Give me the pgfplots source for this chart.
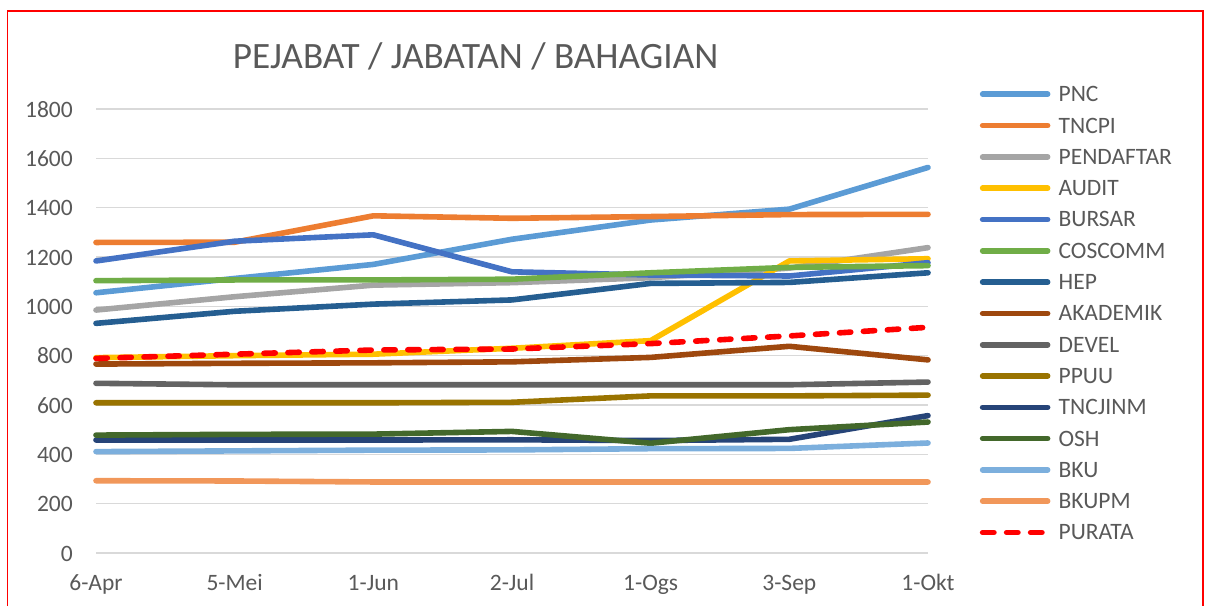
\documentclass[border=0pt]{standalone}
\usepackage{fontspec}
\setmainfont{Carlito}
\usepackage{pgfplots}
\usepackage{pgfplotstable}
\pgfplotsset{compat=1.18}
\definecolor{cPNC}{HTML}{5B9BD5}
\definecolor{cTNCPI}{HTML}{ED7D31}
\definecolor{cPEND}{HTML}{A5A5A5}
\definecolor{cAUDIT}{HTML}{FFC000}
\definecolor{cBURSAR}{HTML}{4472C4}
\definecolor{cCOS}{HTML}{70AD47}
\definecolor{cHEP}{HTML}{255E91}
\definecolor{cAKAD}{HTML}{9E480E}
\definecolor{cDEVEL}{HTML}{636363}
\definecolor{cPPUU}{HTML}{997300}
\definecolor{cTNCJ}{HTML}{264478}
\definecolor{cOSH}{HTML}{43682B}
\definecolor{cBKU}{HTML}{7CAFDD}
\definecolor{cBKUPM}{HTML}{F1975A}
\definecolor{txt}{HTML}{595959}
\definecolor{gridc}{HTML}{D9D9D9}
\pgfplotstableread{
x PNC TNCPI PEND AUDIT BURSAR COS HEP AKAD DEVEL PPUU TNCJ OSH BKU BKUPM PURATA
0 1055 1259 985 792 1184 1104 931 766 688 609 458 478 411 293 789
1 1113 1260 1039 800 1264 1107 980 769 682 609 458 481 414 292 806
2 1170 1367 1086 806 1290 1107 1009 771 682 609 458 482 417 288 823
3 1272 1357 1096 830 1140 1110 1026 775 682 611 459 493 418 288 827
4 1350 1364 1116 861 1127 1136 1093 793 682 637 456 445 423 288 849
5 1394 1372 1155 1184 1123 1158 1097 838 682 637 461 500 424 288 880
6 1563 1373 1238 1193 1177 1165 1136 783 693 640 557 531 446 288 915
}\data
\begin{document}
\begin{tikzpicture}
\useasboundingbox (0,0) rectangle (1206pt,-606pt);
\draw[red, line width=1.5pt] (7.5pt,-606pt) -- (7.5pt,-11pt) -- (1203pt,-11pt) -- (1203pt,-606pt);
\node[anchor=base, font=\fontsize{37.2}{44}\selectfont, text=txt, inner sep=0pt] at (475.5pt,-68pt) {PEJABAT / JABATAN / BAHAGIAN};
\begin{axis}[
  at={(96pt,-553pt)}, anchor=south west,
  scale only axis, width=832pt, height=444pt,
  xmin=0, xmax=6, ymin=0, ymax=1800,
  clip=false,
  axis line style={draw=none},
  major tick length=0pt,
  ymajorgrids,
  grid style={color=gridc, line width=1.5pt},
  ytick={0,200,...,1800},
  xtick={0,...,6},
  xticklabels={6-Apr,5-Mei,1-Jun,2-Jul,1-Ogs,3-Sep,1-Okt},
  /pgf/number format/assume math mode=true,
  /pgf/number format/1000 sep={},
  tick label style={font=\fontsize{23.5}{28}\selectfont, text=txt},
  yticklabel style={anchor=base east, inner sep=0pt, xshift=-23pt, yshift=-8pt},
  xticklabel style={anchor=base, inner sep=0pt, yshift=-37pt},
  legend cell align=left,
  legend style={at={(axis description cs:1.0623,1.0578)}, anchor=north west,
    draw=none, fill=none, inner sep=0pt, outer sep=0pt,
    row sep=9.4pt, column sep=8.2pt,
    font=\fontsize{23.5}{28}\selectfont, text=txt,
    nodes={inner sep=0pt, text height=18.4pt, text depth=3.5pt}},
  legend image code/.code={\draw[#1, line cap=round] (0pt,0pt) -- (65pt,0pt);},
  every axis plot/.append style={line width=5.6pt, line join=round, line cap=round},
]
\addplot[cPNC] table[x=x,y=PNC]{\data};
\addlegendentry{PNC}
\addplot[cTNCPI] table[x=x,y=TNCPI]{\data};
\addlegendentry{TNCPI}
\addplot[cPEND] table[x=x,y=PEND]{\data};
\addlegendentry{PENDAFTAR}
\addplot[cAUDIT] table[x=x,y=AUDIT]{\data};
\addlegendentry{AUDIT}
\addplot[cBURSAR] table[x=x,y=BURSAR]{\data};
\addlegendentry{BURSAR}
\addplot[cCOS] table[x=x,y=COS]{\data};
\addlegendentry{COSCOMM}
\addplot[cHEP] table[x=x,y=HEP]{\data};
\addlegendentry{HEP}
\addplot[cAKAD] table[x=x,y=AKAD]{\data};
\addlegendentry{AKADEMIK}
\addplot[cDEVEL] table[x=x,y=DEVEL]{\data};
\addlegendentry{DEVEL}
\addplot[cPPUU] table[x=x,y=PPUU]{\data};
\addlegendentry{PPUU}
\addplot[cTNCJ] table[x=x,y=TNCJ]{\data};
\addlegendentry{TNCJINM}
\addplot[cOSH] table[x=x,y=OSH]{\data};
\addlegendentry{OSH}
\addplot[cBKU] table[x=x,y=BKU]{\data};
\addlegendentry{BKU}
\addplot[cBKUPM] table[x=x,y=BKUPM]{\data};
\addlegendentry{BKUPM}
\addplot[red, dash pattern=on 11.3pt off 12.7pt] table[x=x,y=PURATA]{\data};
\addlegendentry{PURATA}
\end{axis}
\end{tikzpicture}
\end{document}
